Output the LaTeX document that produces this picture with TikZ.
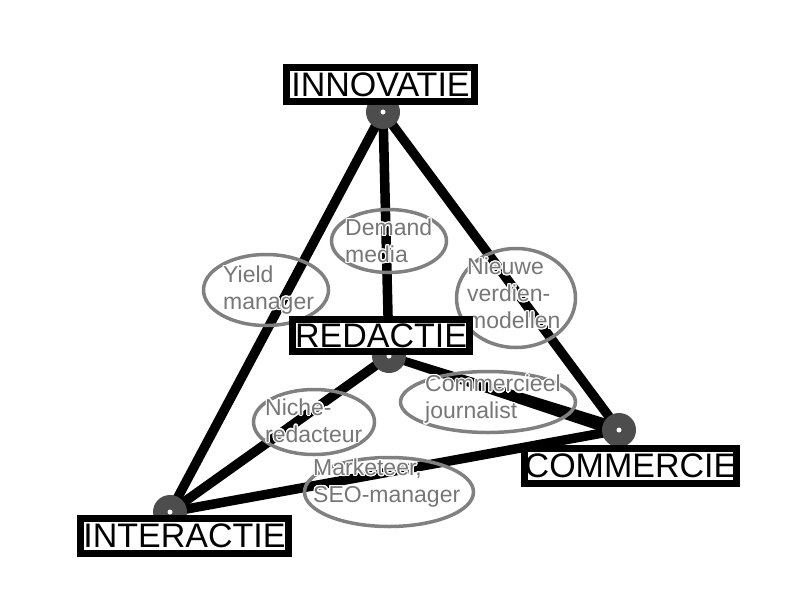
\documentclass[tikz,border=0pt]{standalone}
\usepackage{fontspec}
\setmainfont{Liberation Sans}
\usepackage{contour}
\contourlength{1.2pt}
\usetikzlibrary{shapes.geometric,calc}
\definecolor{dotgray}{HTML}{4D4D4D}
\definecolor{elgray}{HTML}{808080}
\definecolor{txgray}{HTML}{777777}
\begin{document}
\begin{tikzpicture}[x=1pt,y=-1pt,
  edge/.style={line width=9.5pt,black},
  lab/.style={draw=black,fill=white,line width=7pt,inner sep=0pt,
    font=\fontsize{34}{36}\selectfont,text=black},
  ell/.style={draw=elgray,line width=3.5pt,ellipse,inner sep=0pt},
  gtxt/.style={anchor=west,align=left,inner sep=0pt,text=txgray,
    font=\fontsize{23}{27}\selectfont},
  hub/.style={fill=dotgray},
  hubdot/.style={fill=white}]
\useasboundingbox (0,0) rectangle (800,600);
% hub positions
\coordinate (I) at (383,112);
\coordinate (R) at (389,356);
\coordinate (C) at (619,430);
\coordinate (T) at (170,512);
% connectors
\draw[edge] (I) -- (T);
\draw[edge] (I) -- (R);
\draw[edge] (I) -- (C);
\draw[edge] (R) -- (T);
\draw[edge] (T) -- (C);
\fill[black] ($(R)!4pt!90:(C)$) -- ($(C)!7pt!-90:(R)$) -- ($(C)!7pt!90:(R)$) -- ($(R)!4pt!-90:(C)$) -- cycle;
% hubs
\foreach \h in {I,R,C,T}{
  \fill[hub] (\h) circle (17);
  \fill[hubdot] (\h) circle (2.5);
}
% ellipses
\node[ell,minimum width=125,minimum height=71] (eY) at (266,290) {};
\node[ell,minimum width=115,minimum height=63] (eD) at (389,241) {};
\node[ell,minimum width=119,minimum height=99] (eN) at (516,298) {};
\node[ell,minimum width=121,minimum height=65] (eNi) at (314,422) {};
\node[ell,minimum width=175,minimum height=61] (eC) at (488,402) {};
\node[ell,minimum width=169,minimum height=69] (eM) at (389,492) {};
% ellipse texts
\node[gtxt] (tY) at (223,290.5) {\contour{white}{Yield}\\\contour{white}{manager}};
\node[gtxt] (tD) at (345,241.5) {\contour{white}{Demand}\\\contour{white}{media}};
\node[gtxt] (tN) at (467,294) {\contour{white}{Nieuwe}\\\contour{white}{verdien-}\\\contour{white}{modellen}};
\node[gtxt] (tNi) at (265,421) {\contour{white}{Niche-}\\\contour{white}{redacteur}};
\node[gtxt] (tC) at (425,400) {\contour{white}{Commercieel}\\\contour{white}{journalist}};
\node[gtxt] (tM) at (313,483.5) {\contour{white}{Marketeer,}\\\contour{white}{SEO-manager}};
% labels
\node[lab,minimum width=188,minimum height=34] (lI) at (380.5,84.5) {INNOVATIE};
\node[lab,minimum width=177,minimum height=32] (lR) at (381,335.5) {REDACTIE};
\node[lab,minimum width=212,minimum height=35] (lC) at (630.5,466) {COMMERCIE};
\node[lab,minimum width=208,minimum height=35] (lT) at (184.5,536) {INTERACTIE};
\end{tikzpicture}
\end{document}
